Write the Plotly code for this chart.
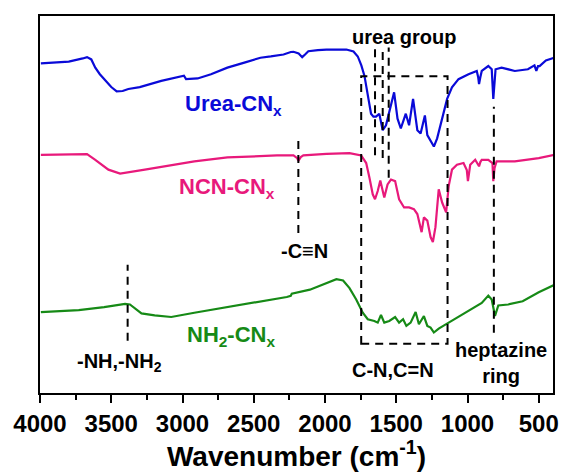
import plotly.graph_objects as go

# FTIR spectra, offset for clarity (transmittance, arbitrary units)
urea_wn = [3994, 3900, 3798, 3700, 3670, 3640, 3612, 3580, 3542, 3500, 3462, 3420, 3380, 3300,
           3149, 3010, 2990, 2975, 2894, 2800, 2685, 2560, 2453, 2380, 2291, 2240, 2221, 2185,
           2160, 2140, 2117, 2050, 1990, 1850, 1800, 1770, 1745, 1723, 1700, 1677, 1660, 1642,
           1619, 1595, 1572, 1544, 1515, 1491, 1468, 1433, 1410, 1382, 1352, 1329, 1299, 1282,
           1259, 1236, 1213, 1178, 1143, 1109, 1063, 993, 935, 925, 919, 910, 900, 854, 830,
           819, 810, 803, 761, 668, 576, 530, 517, 505, 494, 450, 390]
urea_t = [334, 335, 335.7, 339, 340.3, 338, 329.7, 323, 316.3, 310, 305.7, 306, 308, 310,
          316.3, 320.7, 321.5, 318, 318.7, 323, 329.7, 335, 339.7, 341, 343, 345.5, 345.7, 344,
          340.3, 343, 346.3, 347.5, 348, 348, 346, 341, 332, 321.3, 301.3, 283, 280, 280,
          283, 266.3, 271.3, 288, 304.7, 278, 268, 283, 271.3, 298, 266.3, 263, 281.3, 261.3,
          254.7, 249.7, 258, 278, 298, 309.7, 318, 323, 326.3, 320, 313, 320, 326.3, 331.3, 328,
          298, 313, 328, 329.7, 326.3, 328, 332, 326.3, 331.3, 331.3, 337, 339.7]

ncn_wn = [3994, 3800, 3670, 3612, 3560, 3520, 3438, 3350, 3264, 2917, 2685, 2337, 2221, 2195,
          2187, 2170, 2152, 1990, 1828, 1746, 1711, 1688, 1665, 1649, 1630, 1612, 1584, 1561,
          1537, 1508, 1480, 1445, 1410, 1376, 1352, 1322, 1306, 1282, 1259, 1243, 1225, 1202,
          1178, 1150, 1132, 1109, 1074, 1028, 1005, 997, 988, 981, 946, 925, 919, 910, 900,
          854, 825, 819, 810, 796, 668, 500, 390]
ncn_t = [241.3, 241.5, 242, 236.3, 231, 226.3, 222.3, 224, 226.3, 234.7, 238.7, 240.7, 240.7, 238,
         235.3, 239, 240.7, 242.3, 243, 240.7, 233, 218, 201.3, 196.3, 204.7, 215.3, 198, 211.3,
         216.3, 214.7, 196.3, 188, 188, 186.3, 181.3, 163, 178, 174.7, 158, 153, 168, 206.3,
         193, 183, 209.7, 226.3, 231.3, 233, 226, 214.7, 226, 231.3, 236.3, 232, 229.7, 234, 236.3,
         236.3, 233, 214.7, 228, 234.7, 234.7, 238, 241.3]

nh2_wn = [3994, 3728, 3550, 3403, 3369, 3330, 3288, 3195, 3079, 2917, 2569, 2268, 2240, 2233,
          2106, 1990, 1920, 1873, 1828, 1781, 1735, 1700, 1654, 1630, 1607, 1584, 1549, 1508,
          1480, 1452, 1429, 1399, 1364, 1341, 1306, 1282, 1259, 1236, 1202, 1132, 1016, 900,
          854, 830, 807, 784, 715, 613, 500, 390]
nh2_t = [82, 84, 87, 90.3, 89.7, 85, 80.7, 78.7, 77, 81.3, 89.7, 97.3, 98.5, 100.7,
         104.7, 111, 115.3, 114, 106.3, 94.7, 81.3, 74.7, 73, 71.3, 79, 71.3, 73, 77,
         71.3, 74.7, 68, 71.3, 82, 69.7, 78, 68, 66.3, 61.3, 65.3, 71.3, 81.3, 91.3,
         98.7, 94.7, 78, 88.7, 89.7, 93, 102, 109.7]

# Band assignments (cm-1)
nh_band = 3385
cn_triple_band = 2187
urea_bands = [1649, 1595, 1553]
cn_region = (1746, 1140)
heptazine_band = 815

BLUE = "#0a0ad8"
PINK = "#e8197b"
GREEN = "#168a16"
FONT = "Liberation Sans, Arial, sans-serif"

fig = go.Figure()
for wn, t, col in [(urea_wn, urea_t, BLUE), (ncn_wn, ncn_t, PINK), (nh2_wn, nh2_t, GREEN)]:
    fig.add_trace(go.Scatter(x=wn, y=t, mode="lines",
                             line=dict(color=col, width=2.2), showlegend=False,
                             hoverinfo="skip"))

dash_line = dict(color="black", width=2, dash="8px,6px")

def vline(x, y0, y1):
    fig.add_shape(type="line", x0=x, x1=x, y0=y0, y1=y1, xref="x", yref="y", line=dash_line)

vline(nh_band, 53, 130)
vline(cn_triple_band, 162, 261)
for b, lo in zip(urea_bands, [241, 238, 218]):
    vline(b, lo, 350)
vline(heptazine_band, 61, 290)
fig.add_shape(type="rect", x0=cn_region[0], x1=cn_region[1], y0=50, y1=321,
              xref="x", yref="y", line=dash_line)

def label(x, y, text, color="black", size=20):
    fig.add_annotation(x=x, y=y, xref="x", yref="y", text=text, showarrow=False,
                       font=dict(family=FONT, size=size, color=color, weight="bold"),
                       xanchor="center", yanchor="middle")

label(1447, 361, "urea group")
label(2643, 292, "Urea-CN<sub>x</sub>", BLUE, 22)
label(2685, 208, "NCN-CN<sub>x</sub>", PINK, 22)
label(2657, 58, "NH<sub>2</sub>-CN<sub>x</sub>", GREEN, 22)
label(2143, 144, "-C\u2261N")
label(3443, 31, "-NH,-NH<sub>2</sub>")
label(1525, 23, "C-N,C=N")
label(766, 30, "heptazine<br>ring")

fig.update_layout(
    width=568, height=472,
    margin=dict(l=40, r=9, t=16, b=74),
    paper_bgcolor="white", plot_bgcolor="white",
    font=dict(family=FONT, color="black"),
    xaxis=dict(range=[4000, 400], tickvals=[4000, 3500, 3000, 2500, 2000, 1500, 1000, 500],
               ticks="outside", ticklen=8, tickwidth=2, tickcolor="black",
               minor=dict(dtick=250, ticks="outside", ticklen=5, tickwidth=2, tickcolor="black"),
               showline=True, linecolor="black", linewidth=2, mirror=True,
               showgrid=False, zeroline=False,
               tickfont=dict(family=FONT, size=24, color="black", weight="bold"),
               title=dict(text="Wavenumber (cm<sup>-1</sup>)",
                          font=dict(family=FONT, size=28, color="black", weight="bold"),
                          standoff=7)),
    yaxis=dict(range=[0, 382], showticklabels=False, ticks="",
               showline=True, linecolor="black", linewidth=2, mirror=True,
               showgrid=False, zeroline=False),
)

fig.write_html("out.html")
